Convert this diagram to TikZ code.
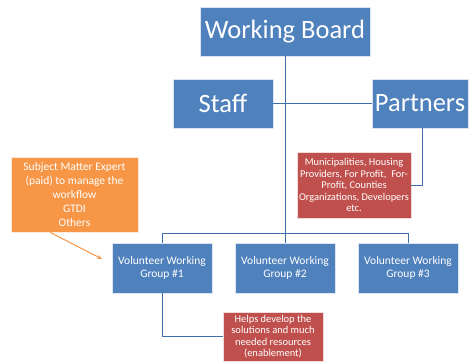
\documentclass[tikz,border=0pt]{standalone}
\usepackage{fontspec}
\setmainfont{Carlito}
\usetikzlibrary{arrows.meta}
\definecolor{boxblue}{HTML}{4F81BD}
\definecolor{boxorange}{HTML}{F79646}
\definecolor{boxred}{HTML}{C0504D}
\definecolor{lineblue}{HTML}{3F6EAE}
\tikzset{
  bigbox/.style={fill=boxblue, draw=white!80!boxblue, line width=0.6pt, text=white, minimum height=49pt, inner sep=0pt, font=\fontsize{26.5}{30}\selectfont},
  groupbox/.style={fill=boxblue, draw=white!80!boxblue, line width=0.6pt, text=white, minimum width=100pt, minimum height=50pt, inner sep=0pt, align=center, font=\fontsize{11.5}{13}\selectfont},
  notebox/.style={fill=boxred, draw=white!80!boxred, line width=0.6pt, text=white, inner sep=0pt, align=center},
  orangebox/.style={fill=boxorange, draw=white!80!boxorange, line width=0.6pt, text=white, inner sep=0pt, align=center, font=\fontsize{11.5}{14.2}\selectfont},
  link/.style={draw=lineblue, line width=1pt},
  orangelink/.style={draw=boxorange, line width=1pt, -{Stealth[length=5pt,width=4pt]}}
}
\begin{document}
\begin{tikzpicture}[x=1pt,y=-1pt]
\useasboundingbox (0,0) rectangle (470,362);
\node[bigbox, minimum width=170pt] (wb) at (285,31.5) {Working Board};
\node[bigbox, minimum width=100pt] (staff) at (223,103.5) {Staff};
\node[bigbox, minimum width=96pt] (partners) at (420,103.5) {Partners};
\node[notebox, minimum width=114pt, minimum height=66pt, font=\fontsize{10.4}{11.5}\selectfont] (red1) at (354,185) {Municipalities, Housing\\Providers, For Profit,\ \ For-\\Profit, Counties\\Organizations, Developers\\etc.};
\node[orangebox, minimum width=127pt, minimum height=75pt] (orange) at (74.5,194.5) {Subject Matter Expert\\(paid) to manage the\\workflow\\GTDI\\Others};
\node[groupbox] (g1) at (162,268) {Volunteer Working\\Group \#1};
\node[groupbox] (g2) at (285,268) {Volunteer Working\\Group \#2};
\node[groupbox] (g3) at (408,268) {Volunteer Working\\Group \#3};
\node[notebox, minimum width=100pt, minimum height=49pt, font=\fontsize{10.5}{11.2}\selectfont] (red2) at (273,336.5) {Helps develop the\\solutions and much\\needed resources\\(enablement)};
\coordinate (bus) at (162,233);
\coordinate (arrowend) at (102,259);
\draw[link] (wb.south) -- (g2.north);
\draw[link] (staff.east) -- (partners.west);
\draw[link] (g1.north) -- (bus) -| (g3.north);
\draw[link] ([xshift=2pt]partners.south) |- (red1.east);
\draw[link] (g1.south) |- (red2.west);
\draw[orangelink] ([xshift=-24.5pt]orange.south) -- (arrowend);
\end{tikzpicture}
\end{document}
